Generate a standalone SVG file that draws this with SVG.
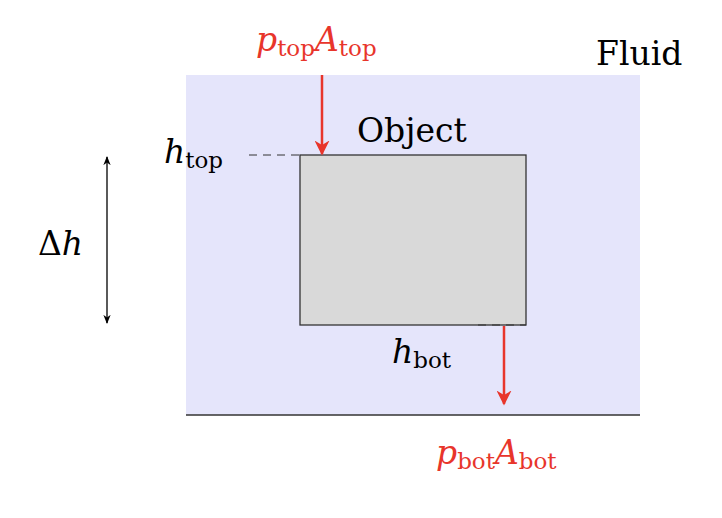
<svg xmlns="http://www.w3.org/2000/svg" width="722" height="518" viewBox="0 0 722 518">
<style>
text{font-family:'DejaVu Serif','Liberation Serif',serif;font-size:33px;fill:#000}
.i{font-style:italic}
.s{font-size:23px;font-style:normal}
.r{fill:#e8352b}
.f{stroke:#e8352b;stroke-width:2.5;fill:none}
</style>
<defs>
<marker id="ra" viewBox="0 0 10 10" refX="9" refY="5" markerWidth="6" markerHeight="6" orient="auto"><path d="M0,0 L10,5 L0,10 L3,5 Z" fill="#e8352b"/></marker>
<marker id="ka" viewBox="0 0 10 10" refX="9" refY="5" markerWidth="7" markerHeight="7" orient="auto-start-reverse"><path d="M0,1 L10,5 L0,9 L3,5 Z" fill="#000"/></marker>
</defs>
<g id="fluid">
<rect x="186" y="75" width="454" height="340" fill="#e5e5fb"/>
<line x1="186" y1="415" x2="640" y2="415" stroke="#333" stroke-width="1.3"/>
<text x="596" y="65">Fluid</text>
</g>
<g id="object">
<rect x="300" y="155" width="226" height="170" fill="#d9d9d9" stroke="#333" stroke-width="1.3"/>
<text x="357" y="142">Object</text>
</g>
<g id="connectors">
<line x1="249" y1="155" x2="300" y2="155" stroke="#333" stroke-width="1" stroke-dasharray="8,6"/>
<line x1="478" y1="325" x2="526" y2="325" stroke="#333" stroke-width="1" stroke-dasharray="8,6"/>
<line class="f" x1="322" y1="75" x2="322" y2="154" marker-end="url(#ra)"/>
<line class="f" x1="504" y1="326" x2="504" y2="404" marker-end="url(#ra)"/>
<line x1="107" y1="157" x2="107" y2="323" stroke="#000" stroke-width="1.3" marker-start="url(#ka)" marker-end="url(#ka)"/>
</g>
<g id="labels">
<text class="r" x="256" y="51"><tspan class="i">p</tspan><tspan class="s" dy="5">top</tspan><tspan class="i" dy="-5">A</tspan><tspan class="s" dy="5">top</tspan></text>
<text x="164" y="163"><tspan class="i">h</tspan><tspan class="s" dy="5">top</tspan></text>
<text x="392" y="363"><tspan class="i">h</tspan><tspan class="s" dy="5">bot</tspan></text>
<text class="r" x="436" y="464"><tspan class="i">p</tspan><tspan class="s" dy="5">bot</tspan><tspan class="i" dy="-5">A</tspan><tspan class="s" dy="5">bot</tspan></text>
<text x="38" y="255">Δ<tspan class="i">h</tspan></text>
</g>
</svg>
